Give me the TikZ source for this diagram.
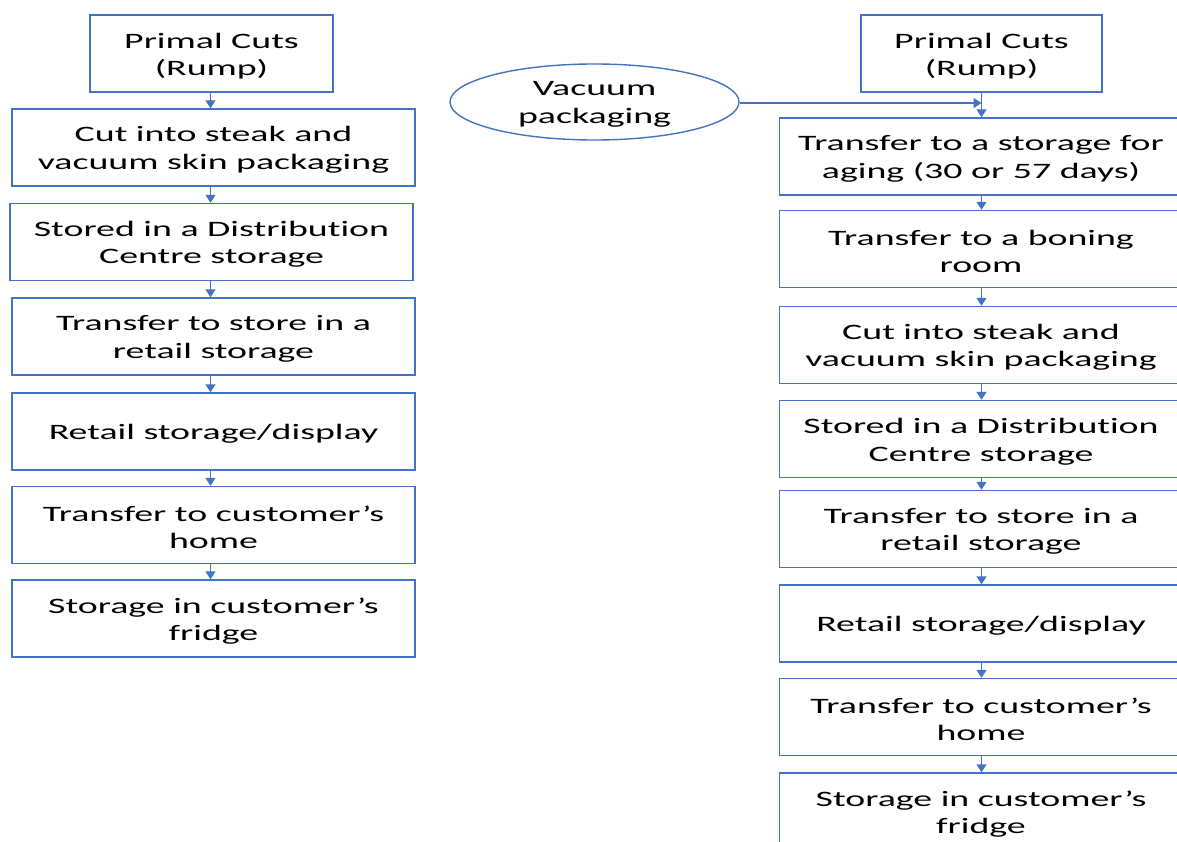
\documentclass[tikz,border=0pt]{standalone}
\usepackage{fontspec}
\setmainfont{Carlito}[FakeStretch=1.72, Ligatures={NoCommon}]
\usetikzlibrary{arrows.meta,shapes.geometric,calc}
\definecolor{obl}{HTML}{4472C4}
\tikzset{
  box/.style={draw=obl, line width=1.4pt, minimum height=77pt, inner sep=0pt},
  txt/.style={align=center, inner sep=0pt, font=\fontsize{22}{27.5}\selectfont, text=black},
  oval/.style={ellipse, draw=obl, line width=1.4pt, minimum width=289pt,
    minimum height=76pt, inner sep=0pt},
  conn/.style={draw=obl, line width=1.4pt, -{Triangle[width=10pt,length=8pt]}}
}
\newcommand{\bx}[5]{%
  \node[box, minimum width=#3] (#1) at (#2) {};
  \node[txt] (#1t) at ([yshift=-2.5pt]#1.center) {#4};}
\newcommand{\distr}{Distribut\kern0pt ion}
\begin{document}
\begin{tikzpicture}[x=1pt,y=-1pt]
\clip (0,0) rectangle (1177,842);
\fill[white] (0,0) rectangle (1177,842);
% left column
\bx{L1}{211.5,53.5}{243pt}{Primal Cuts\\(Rump)}{}
\bx{L2}{213.5,147.5}{403pt}{Cut into steak and\\vacuum skin packaging}{}
\bx{L3}{211.5,242}{403pt}{Stored in a \distr\\Centre storage}{}
\bx{L4}{213.5,336.5}{403pt}{Transfer to store in a\\retail storage}{}
\bx{L5}{213.5,431.5}{403pt}{Retail storage/display}{}
\bx{L6}{213.5,525}{403pt}{Transfer to customer’s\\home}{}
\bx{L7}{213.5,618.5}{403pt}{Storage in customer’s\\fridge}{}
\coordinate (LX) at (210.5,0);
\foreach \a/\b in {L1/L2,L2/L3,L3/L4,L4/L5,L5/L6,L6/L7}
  \draw[conn] (\a.south -| LX) -- (\b.north -| LX);
% right column
\bx{R1}{981.5,53.5}{241pt}{Primal Cuts\\(Rump)}{}
\bx{R2}{981,156.5}{403pt}{Transfer to a storage for\\aging (30 or 57 days)}{}
\bx{R3}{981,249}{403pt}{Transfer to a boning\\room}{}
\bx{R4}{981,345}{403pt}{Cut into steak and\\vacuum skin packaging}{}
\bx{R5}{981,439}{403pt}{Stored in a \distr\\Centre storage}{}
\bx{R6}{981,529}{403pt}{Transfer to store in a\\retail storage}{}
\bx{R7}{981,623.5}{403pt}{Retail storage/display}{}
\bx{R8}{981,717}{403pt}{Transfer to customer’s\\home}{}
\bx{R9}{981,811.5}{403pt}{Storage in customer’s\\fridge}{}
\node[oval] (V) at (594.5,102) {};
\node[txt] (Vt) at ([yshift=-2.5pt]V.center) {Vacuum\\packaging};
\coordinate (RX) at (981.5,0);
\coordinate (J) at ($(R1.south)!0.42!(R2.north)$);
\draw[conn] (R1.south -| RX) -- (R2.north -| RX);
\draw[conn] (V.east |- J) -- (J -| RX);
\foreach \a/\b in {R2/R3,R3/R4,R4/R5,R5/R6,R6/R7,R7/R8,R8/R9}
  \draw[conn] (\a.south -| RX) -- (\b.north -| RX);
\end{tikzpicture}
\end{document}
